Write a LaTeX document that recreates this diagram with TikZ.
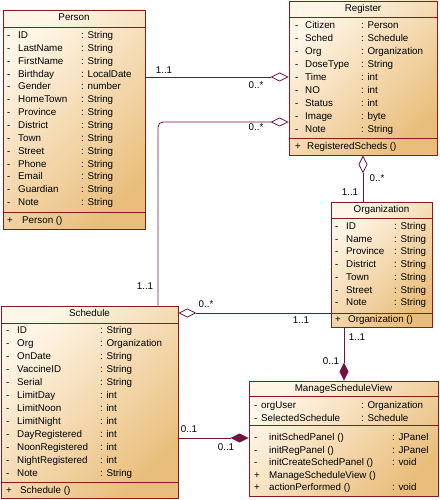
\documentclass[tikz,border=0pt]{standalone}
\usepackage{fontspec}
\setmainfont{Liberation Sans}
\usetikzlibrary{arrows.meta}
\definecolor{boxline}{HTML}{8B1A1A}
\definecolor{assocline}{HTML}{6E1440}
\definecolor{fillhi}{HTML}{FFF6E8}
\definecolor{filllo}{HTML}{E9BE7C}
\begin{document}
\begin{tikzpicture}[
            x=1pt, y=-1pt,
            cls/.style={draw=boxline, line width=0.9pt, top color=fillhi, bottom color=filllo, shading angle=45, inner sep=0},
            sep/.style={draw=boxline, line width=0.9pt},
            txt/.style={anchor=west, inner sep=0, text height=7pt, text depth=2pt, font=\fontsize{9.8}{11}\selectfont},
            ttl/.style={txt, anchor=center},
            lbl/.style={ttl},
            agg/.style={draw=assocline, line width=0.8pt, -{Diamond[open, line join=miter, length=18pt, width=9pt]}},
            comp/.style={draw=assocline, line width=0.8pt, -{Diamond[line join=miter, length=18pt, width=9pt]}}
            ]
            \useasboundingbox (0,0) rectangle (439,500);
            % class boxes
            \node[cls, minimum width=142pt, minimum height=219pt] (person) at (74,119.5) {};
            \node[cls, minimum width=148pt, minimum height=154pt] (register) at (363,78) {};
            \node[cls, minimum width=101pt, minimum height=125pt] (organization) at (381.5,264.5) {};
            \node[cls, minimum width=177pt, minimum height=192pt] (schedule) at (89.5,402) {};
            \node[cls, minimum width=189pt, minimum height=115pt] (msv) at (343.5,438.5) {};
            % Person
            \node[ttl] (person-title) at (74,18.5) {Person};
            \draw[sep] (3,27) -- (145,27);
            \draw[sep] (3,212) -- (145,212);
            \foreach \n/\t [count=\i] in {ID/String, LastName/String, FirstName/String, Birthday/LocalDate,
                Gender/number, HomeTown/String, Province/String, District/String, Town/String,
                Street/String, Phone/String, Email/String, Guardian/String, Note/String} {
                \node[txt] (person-v\i) at (7,{36+12.85*(\i-1)}) {-};
                \node[txt] (person-n\i) at (18,{36+12.85*(\i-1)}) {\n};
                \node[txt] (person-t\i) at (81,{36+12.85*(\i-1)}) {: \t};
            }
            \node[txt] (person-mv) at (7,221) {+};
            \node[txt] (person-m) at (22,221) {Person ()};
            % Register
            \node[ttl] (register-title) at (363,9) {Register};
            \draw[sep] (289,17) -- (437,17);
            \draw[sep] (289,138) -- (437,138);
            \foreach \n/\t [count=\i] in {Citizen/Person, Sched/Schedule, Org/Organization, DoseType/String,
                Time/int, NO/int, Status/int, Image/byte, Note/String} {
                \node[txt] (register-v\i) at (295,{26+13*(\i-1)}) {-};
                \node[txt] (register-n\i) at (305,{26+13*(\i-1)}) {\n};
                \node[txt] (register-t\i) at (361,{26+13*(\i-1)}) {: \t};
            }
            \node[txt] (register-mv) at (295,147) {+};
            \node[txt] (register-m) at (307,147) {RegisteredScheds ()};
            % Organization
            \node[ttl] (organization-title) at (381.5,210) {Organization};
            \draw[sep] (331,218) -- (432,218);
            \draw[sep] (331,313) -- (432,313);
            \foreach \n/\t [count=\i] in {ID/String, Name/String, Province/String, District/String,
                Town/String, Street/String, Note/String} {
                \node[txt] (organization-v\i) at (335,{227+12.7*(\i-1)}) {-};
                \node[txt] (organization-n\i) at (346,{227+12.7*(\i-1)}) {\n};
                \node[txt] (organization-t\i) at (394,{227+12.7*(\i-1)}) {: \t};
            }
            \node[txt] (organization-mv) at (335,320) {+};
            \node[txt] (organization-m) at (348,320) {Organization ()};
            % Schedule
            \node[ttl] (schedule-title) at (89.5,314) {Schedule};
            \draw[sep] (1,323) -- (178,323);
            \draw[sep] (1,482) -- (178,482);
            \foreach \n/\t [count=\i] in {ID/String, Org/Organization, OnDate/String, VaccineID/String,
                Serial/String, LimitDay/int, LimitNoon/int, LimitNight/int, DayRegistered/int,
                NoonRegistered/int, NightRegistered/int, Note/String} {
                \node[txt] (schedule-v\i) at (6,{331+13*(\i-1)}) {-};
                \node[txt] (schedule-n\i) at (17,{331+13*(\i-1)}) {\n};
                \node[txt] (schedule-t\i) at (100,{331+13*(\i-1)}) {: \t};
            }
            \node[txt] (schedule-mv) at (6,491) {+};
            \node[txt] (schedule-m) at (20,491) {Schedule ()};
            % ManageScheduleView
            \node[ttl] (msv-title) at (343.5,389) {ManageScheduleView};
            \draw[sep] (249,396) -- (438,396);
            \draw[sep] (249,425) -- (438,425);
            \foreach \n/\t [count=\i] in {orgUser/Organization, SelectedSchedule/Schedule} {
                \node[txt] (msv-v\i) at (254,{406+13*(\i-1)}) {-};
                \node[txt] (msv-n\i) at (261,{406+13*(\i-1)}) {\n};
                \node[txt] (msv-t\i) at (361,{406+13*(\i-1)}) {: \t};
            }
            \foreach \v/\n/\t [count=\i] in {-/initSchedPanel ()/: JPanel, -/initRegPanel ()/: JPanel,
                -/initCreateSchedPanel ()/: void, +/ManageScheduleView ()/{}, +/actionPerformed ()/: void} {
                \node[txt] (msv-mv\i) at (254,{438+12.5*(\i-1)}) {\v};
                \node[txt] (msv-m\i) at (269,{438+12.5*(\i-1)}) {\n};
                \node[txt] (msv-mt\i) at (392,{438+12.5*(\i-1)}) {\t};
            }
            % connectors
            \coordinate (pr) at (0,77);
            \coordinate (sr) at (158,122);
            \coordinate (so) at (0,313);
            \coordinate (om) at (344,0);
            \coordinate (sm) at (0,438);
            \draw[agg] (person.east |- pr) -- (register.west |- pr);
            \draw[agg, rounded corners=5pt] (schedule.north -| sr) |- (register.west |- sr);
            \draw[agg] (organization.north -| register.south) -- (register.south);
            \draw[agg] (organization.west |- so) -- (schedule.east |- so);
            \draw[comp] (organization.south -| om) -- (msv.north -| om);
            \draw[comp] (schedule.east |- sm) -- (msv.west |- sm);
            % multiplicities
            \node[lbl] (pr-a) at (164,71) {1..1};
            \node[lbl] (pr-b) at (256,86) {0..*};
            \node[lbl] (sr-a) at (145,287) {1..1};
            \node[lbl] (sr-b) at (256,128) {0..*};
            \node[lbl] (ro-a) at (377,179) {0..*};
            \node[lbl] (ro-b) at (350,193) {1..1};
            \node[lbl] (so-a) at (206,305) {0..*};
            \node[lbl] (so-b) at (301,321) {1..1};
            \node[lbl] (om-a) at (357,338) {1..1};
            \node[lbl] (om-b) at (331,362) {0..1};
            \node[lbl] (sm-a) at (189,430) {0..1};
            \node[lbl] (sm-b) at (226,448) {0..1};
\end{tikzpicture}
\end{document}
